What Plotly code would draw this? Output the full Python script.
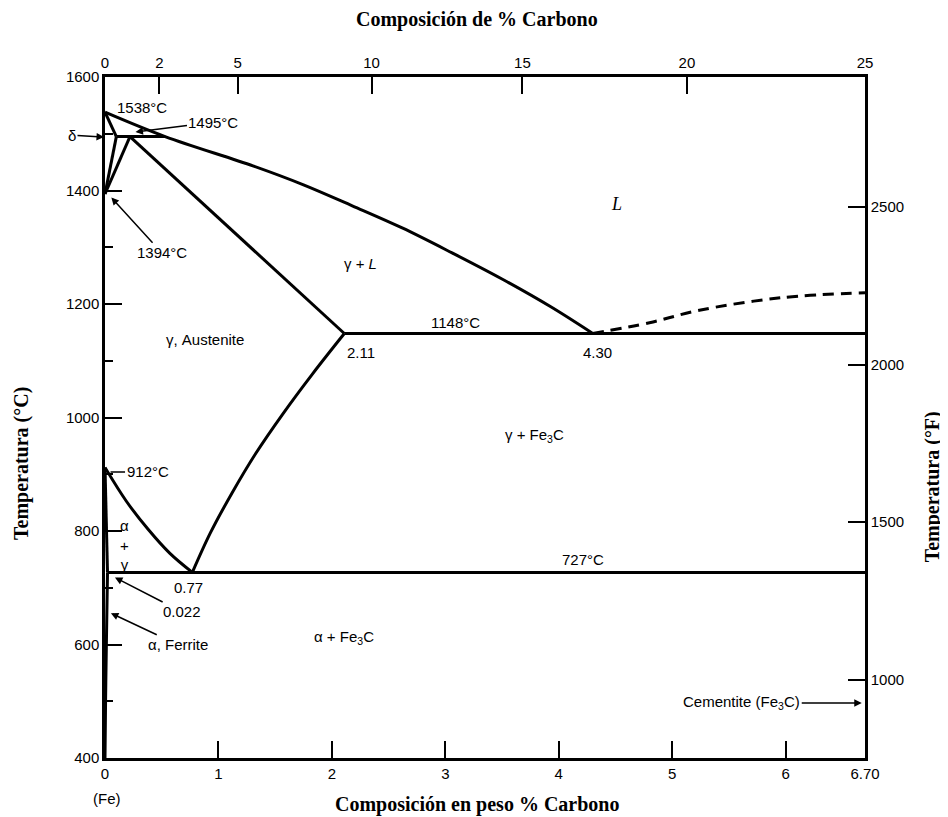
import plotly.graph_objects as go

# ---------------- data (wt % C, temperature °C) ----------------
liquidus_wt = [0.0, 0.53, 1.31, 1.75, 2.18, 2.62, 3.06, 3.50, 3.93, 4.30]
liquidus_T = [1538, 1495, 1443, 1410, 1373, 1334, 1290, 1244, 1195, 1148]

delta_solidus_wt = [0.0, 0.10]
delta_solidus_T = [1538, 1495]

delta_solvus_wt = [0.10, 0.0]
delta_solvus_T = [1495, 1394]

gamma_delta_wt = [0.0, 0.22]
gamma_delta_T = [1394, 1495]

peritectic_wt = [0.10, 0.53]
peritectic_T = [1495, 1495]

aus_solidus_wt = [0.22, 2.11]
aus_solidus_T = [1495, 1148]

eutectic_wt = [2.11, 6.70]
eutectic_T = [1148, 1148]

acm_wt = [2.11, 1.83, 1.57, 1.33, 1.12, 0.93, 0.77]
acm_T = [1148, 1077, 1007, 937, 867, 797, 727]

a3_wt = [0.0, 0.19, 0.38, 0.57, 0.77]
a3_T = [912, 852, 803, 761, 727]

alpha_upper_wt = [0.0, 0.022]
alpha_upper_T = [912, 727]

ferrite_solvus_wt = [0.022, 0.012, 0.005, 0.0]
ferrite_solvus_T = [727, 600, 500, 400]

eutectoid_wt = [0.022, 6.70]
eutectoid_T = [727, 727]

cementite_liq_wt = [4.30, 4.80, 5.24, 5.96, 6.70]
cementite_liq_T = [1148, 1167, 1189, 1211, 1220]

# axes
x_range = [0.0, 6.70]
T_range = [400, 1600]
bottom_tickvals = [0, 1, 2, 3, 4, 5, 6, 6.70]
bottom_ticktext = ["0", "1", "2", "3", "4", "5", "6", "6.70"]
top_tickvals = [0.0, 0.48, 1.17, 2.35, 3.68, 5.13, 6.70]   # wt% positions
top_ticktext = ["0", "2", "5", "10", "15", "20", "25"]      # at% C
left_tickvals = [400, 600, 800, 1000, 1200, 1400, 1600]
right_tickvals = [1000, 1500, 2000, 2500]


def c_to_f(c):
    return c * 9.0 / 5.0 + 32.0


F_range = [c_to_f(T_range[0]), c_to_f(T_range[1])]

SANS = "Liberation Sans, Arial, sans-serif"
SERIF = "Liberation Serif, Times New Roman, serif"

fig = go.Figure()

segments = [
    (liquidus_wt, liquidus_T, "spline"),
    (delta_solidus_wt, delta_solidus_T, "linear"),
    (delta_solvus_wt, delta_solvus_T, "linear"),
    (gamma_delta_wt, gamma_delta_T, "linear"),
    (peritectic_wt, peritectic_T, "linear"),
    (aus_solidus_wt, aus_solidus_T, "linear"),
    (eutectic_wt, eutectic_T, "linear"),
    (acm_wt, acm_T, "spline"),
    (a3_wt, a3_T, "spline"),
    (alpha_upper_wt, alpha_upper_T, "linear"),
    (ferrite_solvus_wt, ferrite_solvus_T, "spline"),
    (eutectoid_wt, eutectoid_T, "linear"),
]
for xs, ys, shape in segments:
    fig.add_trace(go.Scatter(x=xs, y=ys, mode="lines",
                             line=dict(color="black", width=3, shape=shape),
                             hoverinfo="skip", showlegend=False, cliponaxis=False))

fig.add_trace(go.Scatter(x=cementite_liq_wt, y=cementite_liq_T, mode="lines",
                         line=dict(color="black", width=3, dash="11px,7px", shape="spline"),
                         hoverinfo="skip", showlegend=False))

# invisible trace to anchor secondary axes (top at% and right °F)
fig.add_trace(go.Scatter(x=[x_range[0], x_range[1]], y=F_range, xaxis="x2", yaxis="y2",
                         mode="markers", marker=dict(opacity=0), hoverinfo="skip",
                         showlegend=False))

tickfont = dict(family=SANS, size=15, color="black")
axis_common = dict(showgrid=False, zeroline=False, showline=True, linecolor="black",
                   linewidth=2.5, ticks="inside", tickcolor="black", tickwidth=2,
                   ticklen=17, tickfont=tickfont)

# the page body adds an 8px margin, so the figure is 8px smaller than the window
fig.update_layout(
    width=940, height=809,
    margin=dict(l=97, r=83, t=69, b=59),
    paper_bgcolor="white", plot_bgcolor="white",
    showlegend=False,
    xaxis=dict(range=x_range, tickmode="array", tickvals=bottom_tickvals,
               ticktext=bottom_ticktext, **axis_common),
    xaxis2=dict(range=x_range, overlaying="x", side="top", tickmode="array",
                tickvals=top_tickvals, ticktext=top_ticktext, anchor="y", **axis_common),
    yaxis=dict(range=T_range, tickmode="array", tickvals=left_tickvals,
               minor=dict(dtick=100, tick0=400, ticklen=8, tickwidth=2, tickcolor="black",
                          ticks="inside"),
               **axis_common),
    yaxis2=dict(range=F_range, overlaying="y", side="right", tickmode="array",
                tickvals=right_tickvals, anchor="x", **axis_common),
)

ann_font = dict(family=SANS, size=15, color="black")
annotations = []


def label(text, x, y, **kw):
    d = dict(text=text, x=x, y=y, xref="x", yref="y", showarrow=False, font=ann_font)
    d.update(kw)
    annotations.append(d)


def arrow_label(text, x, y, ax, ay, head=2):
    annotations.append(dict(text=text, x=x, y=y, xref="x", yref="y", showarrow=True,
                            ax=ax, ay=ay, arrowhead=head, arrowsize=1, arrowwidth=1.5,
                            arrowcolor="black", standoff=1, font=ann_font))


label("1538°C", 0.33, 1547)
arrow_label("1495°C", 0.26, 1503, 79, -10)
arrow_label("δ", 0.0, 1494, -33, -2)
arrow_label("1394°C", 0.05, 1389, 51, 56)
label("<i>L</i>", 4.51, 1376, font=dict(family=SERIF, size=18, color="black"))
label("γ + <i>L</i>", 2.25, 1272)
label("γ, Austenite", 0.88, 1137)
label("1148°C", 3.09, 1167)
label("2.11", 2.26, 1114)
label("4.30", 4.34, 1114)
label("γ + Fe<sub>3</sub>C", 3.79, 969)
arrow_label("912°C", 0.04, 904, 38, 0, head=0)
label("α<br>+<br>γ", 0.17, 775)
label("727°C", 4.21, 749)
label("0.77", 0.74, 700)
arrow_label("0.022", 0.08, 719, 68, 35)
arrow_label("α, Ferrite", 0.044, 656, 68, 32)
label("α + Fe<sub>3</sub>C", 2.11, 613)
arrow_label("Cementite (Fe<sub>3</sub>C)", 6.68, 497, -121, 0)
label("(Fe)", 0.0, 400, yshift=-40, xshift=2)

title_font = dict(family=SERIF, size=20, color="black")
tkw = dict(xref="paper", yref="paper", showarrow=False, font=title_font,
           xanchor="center", yanchor="middle")
annotations += [
    dict(text="<b>Composición de % Carbono</b>", x=0.49, y=1.084, **tkw),
    dict(text="<b>Composición en peso % Carbono</b>", x=0.49, y=-0.069, **tkw),
    dict(text="<b>Temperatura (°C)</b>", x=-0.109, y=0.432, textangle=-90, **tkw),
    dict(text="<b>Temperatura (°F)</b>", x=1.090, y=0.398, textangle=-90, **tkw),
]
fig.update_layout(annotations=annotations)

fig.write_html("out.html")
